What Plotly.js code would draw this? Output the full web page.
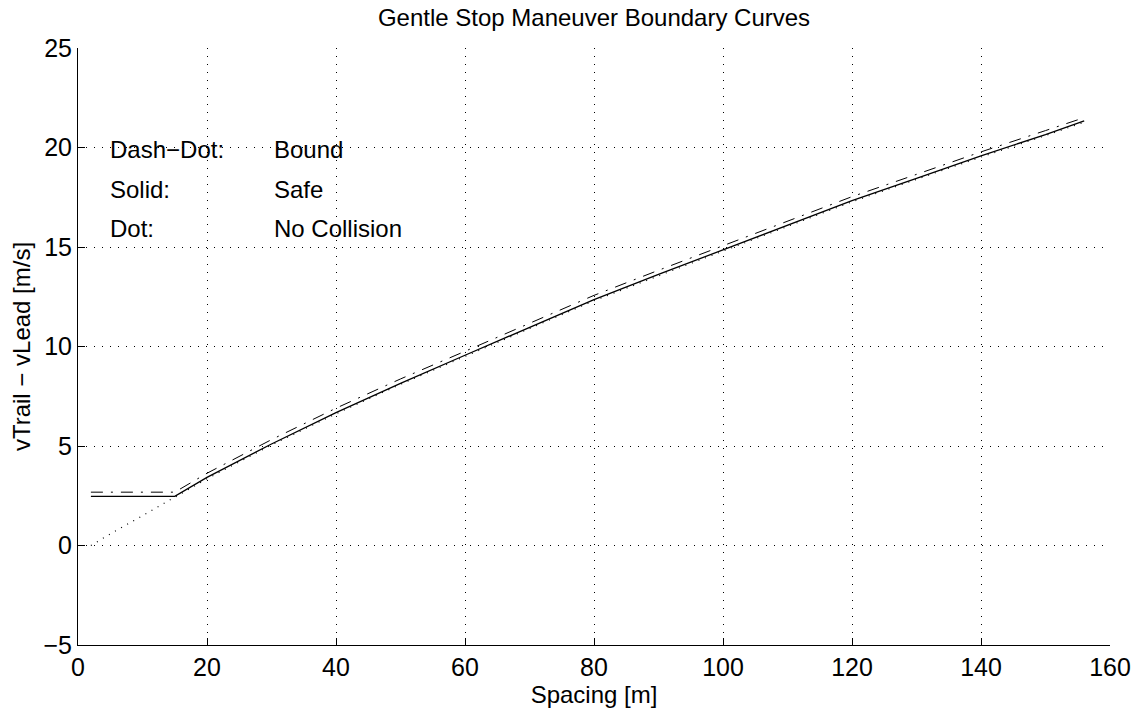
<!DOCTYPE html>
<html>
<head>
<meta charset="utf-8">
<script src="https://cdn.plot.ly/plotly-3.0.1.min.js"></script>
<style>html,body{margin:0;padding:0;background:#fff;}#chart{width:1143px;height:717px;}</style>
</head>
<body>
<div id="chart"></div>
<script>
// Spacing [m]
const spacing = [2, 5, 10, 15, 20, 30, 40, 50, 60, 70, 80, 90, 100, 110, 120, 130, 140, 150, 156];
// Dot: No Collision
const noCollision = [0, 0.58, 1.5, 2.42, 3.35, 5.05, 6.62, 8.1, 9.5, 10.9, 12.3, 13.55, 14.8, 16.05, 17.27, 18.4, 19.52, 20.6, 21.27];
// Solid: Safe
const safe = [2.47, 2.47, 2.47, 2.47, 3.42, 5.1, 6.68, 8.15, 9.56, 10.96, 12.36, 13.62, 14.85, 16.1, 17.33, 18.45, 19.58, 20.65, 21.34];
// Dash-Dot: Bound
const bound = [2.68, 2.68, 2.68, 2.68, 3.63, 5.32, 6.9, 8.37, 9.76, 11.17, 12.57, 13.83, 15.06, 16.3, 17.53, 18.65, 19.78, 20.85, 21.5];

const legendKeys = ["Dash\u2212Dot:", "Solid:", "Dot:"];
const legendNames = ["Bound", "Safe", "No Collision"];
const legendY = [19.9, 17.9, 15.95];

const xTicks = [0, 20, 40, 60, 80, 100, 120, 140, 160];
const yTicks = [-5, 0, 5, 10, 15, 20, 25];

const FONT = 'Liberation Sans, Arial, Helvetica, sans-serif';

const traces = [
  {x: spacing, y: noCollision, mode: 'lines', line: {color: '#000', width: 1.2, dash: '1px,6px'}, name: 'No Collision'},
  {x: spacing, y: safe, mode: 'lines', line: {color: '#000', width: 1.3}, name: 'Safe'},
  {x: spacing, y: bound, mode: 'lines', line: {color: '#000', width: 1, dash: '12px,8px,2px,8px'}, name: 'Bound'}
];

const annotations = [];
for (let i = 0; i < legendKeys.length; i++) {
  annotations.push({x: 4.6, y: legendY[i], xref: 'x', yref: 'y', text: legendKeys[i], showarrow: false, xanchor: 'left', yanchor: 'middle', font: {family: FONT, size: 24, color: '#000'}});
  annotations.push({x: 30, y: legendY[i], xref: 'x', yref: 'y', text: legendNames[i], showarrow: false, xanchor: 'left', yanchor: 'middle', font: {family: FONT, size: 24, color: '#000'}});
}

const layout = {
  width: 1143, height: 717,
  margin: {l: 78, r: 33, t: 48, b: 72},
  paper_bgcolor: '#fff', plot_bgcolor: '#fff',
  showlegend: false,
  font: {family: FONT, color: '#000'},
  title: {text: 'Gentle Stop Maneuver Boundary Curves', font: {family: FONT, size: 24, color: '#000'}, xref: 'paper', x: 0.5, xanchor: 'center', yref: 'container', y: 0.975, yanchor: 'middle'},
  xaxis: {
    range: [0, 160], tickvals: xTicks, ticktext: xTicks.map(String),
    showline: true, linecolor: '#000', linewidth: 1, mirror: false,
    ticks: 'inside', ticklen: 7, tickcolor: '#000',
    showgrid: true, gridcolor: '#000', gridwidth: 1, griddash: '1px,7px',
    zeroline: false,
    tickfont: {family: FONT, size: 25, color: '#000'},
    title: {text: 'Spacing [m]', font: {family: FONT, size: 24, color: '#000'}, standoff: 2}
  },
  yaxis: {
    range: [-5, 25], tickvals: yTicks,
    showline: true, linecolor: '#000', linewidth: 1, mirror: false,
    ticks: 'inside', ticklen: 7, tickcolor: '#000',
    showgrid: true, gridcolor: '#000', gridwidth: 1, griddash: '1px,7px',
    zeroline: false,
    tickfont: {family: FONT, size: 25, color: '#000'},
    title: {text: 'vTrail \u2212 vLead [m/s]', font: {family: FONT, size: 24, color: '#000'}, standoff: 6}
  },
  annotations: annotations
};

Plotly.newPlot('chart', traces, layout, {displayModeBar: false, staticPlot: true});
</script>
</body>
</html>
